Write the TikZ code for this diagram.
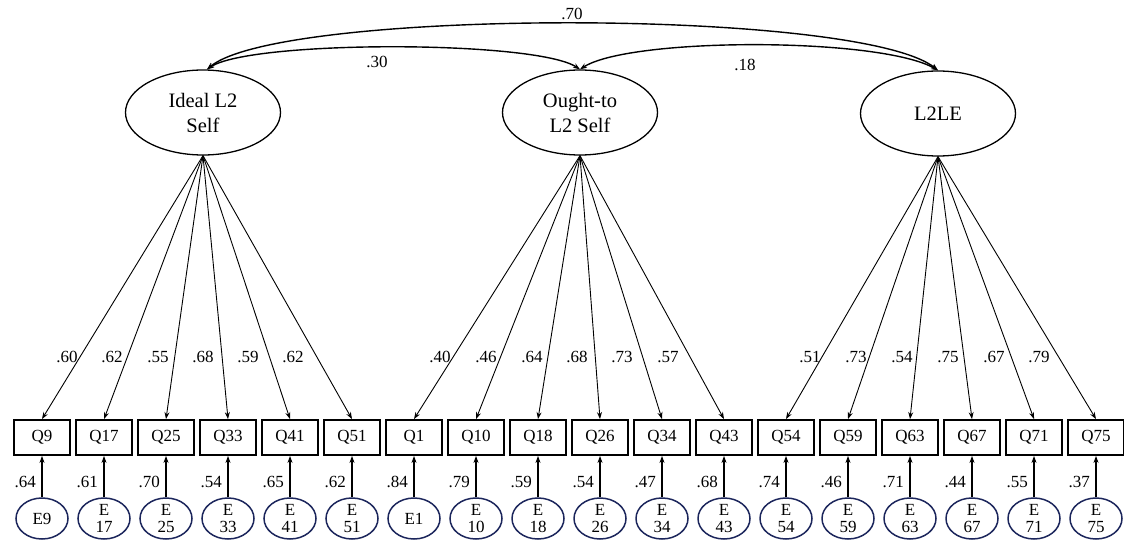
\documentclass[tikz,border=0pt]{standalone}
\usepackage{fontspec}
\setmainfont{Liberation Serif}
\usetikzlibrary{arrows.meta,shapes.geometric,calc}
\definecolor{errnavy}{RGB}{28,38,92}
\begin{document}
\begin{tikzpicture}[x=1pt,y=-1pt,
  latent/.style={ellipse,draw,line width=1.3pt,minimum width=155pt,minimum height=85pt,inner sep=0pt,align=center,font=\fontsize{20.5}{25}\selectfont},
  obs/.style={rectangle,draw,line width=1.8pt,minimum width=56pt,minimum height=35pt,inner sep=0pt,font=\fontsize{17}{20}\selectfont},
  err/.style={ellipse,draw=errnavy,line width=1.5pt,minimum width=52pt,minimum height=41pt,inner sep=0pt,align=center,font=\fontsize{17}{17.5}\selectfont},
  load/.style={line width=0.9pt,-{Stealth[length=7pt,width=5pt]}},
  evar/.style={line width=1.4pt,-{Stealth[length=7pt,width=5pt]}},
  cov/.style={line width=1.4pt,{Stealth[length=7pt,width=5pt]}-{Stealth[length=7pt,width=5pt]}},
  val/.style={font=\fontsize{17}{20}\selectfont,inner sep=0pt}
]
\useasboundingbox (0,0) rectangle (1124,540);

% latent factors
\node[latent] (ideal) at (203,112.5) {Ideal L2\\Self};
\node[latent] (ought) at (580,112.5) {Ought-to\\L2 Self};
\node[latent] (l2le)  at (938,113.5) {L2LE};

% covariances
\draw[cov] ([xshift=4pt]ideal.north) .. controls (280,8) and (860,8) .. (l2le.north);
\draw[cov] ([xshift=4pt]ideal.north) .. controls (250,40) and (535,40) .. (ought.north);
\draw[cov] (ought.north) .. controls (630,37) and (880,37) .. (l2le.north);
\node[val,anchor=base] (c70) at (572,20) {.70};
\node[val,anchor=base] (c30) at (377,68) {.30};
\node[val,anchor=base] (c18) at (745,71) {.18};

% indicators, errors, loadings
\foreach \q/\lx/\lv/\ev/\lat [count=\i from 0] in {
  9/67/.60/.64/ideal, 17/112/.62/.61/ideal, 25/158/.55/.70/ideal,
  33/203/.68/.54/ideal, 41/248/.59/.65/ideal, 51/293/.62/.62/ideal,
  1/440/.40/.84/ought, 10/486/.46/.79/ought, 18/532/.64/.59/ought,
  26/577/.68/.54/ought, 34/622/.73/.47/ought, 43/668/.57/.68/ought,
  54/810/.51/.74/l2le, 59/856/.73/.46/l2le, 63/902/.54/.71/l2le,
  67/948/.75/.44/l2le, 71/994/.67/.55/l2le, 75/1039/.79/.37/l2le}{
  \node[obs] (q\q) at ({42+62*\i},437.5) {Q\q};
  \node[err] (e\q) at ({42+62*\i},518.5) {\ifnum\q<10 E\q\else E\\\q\fi};
  \draw[load] (\lat.south) -- (q\q.north);
  \draw[evar] (e\q.north) -- (q\q.south);
  \node[val,anchor=base] (l\q) at (\lx,362) {\lv};
  \node[val,anchor=base east] (v\q) at ({42+62*\i-6},487) {\ev};
}
\end{tikzpicture}
\end{document}
